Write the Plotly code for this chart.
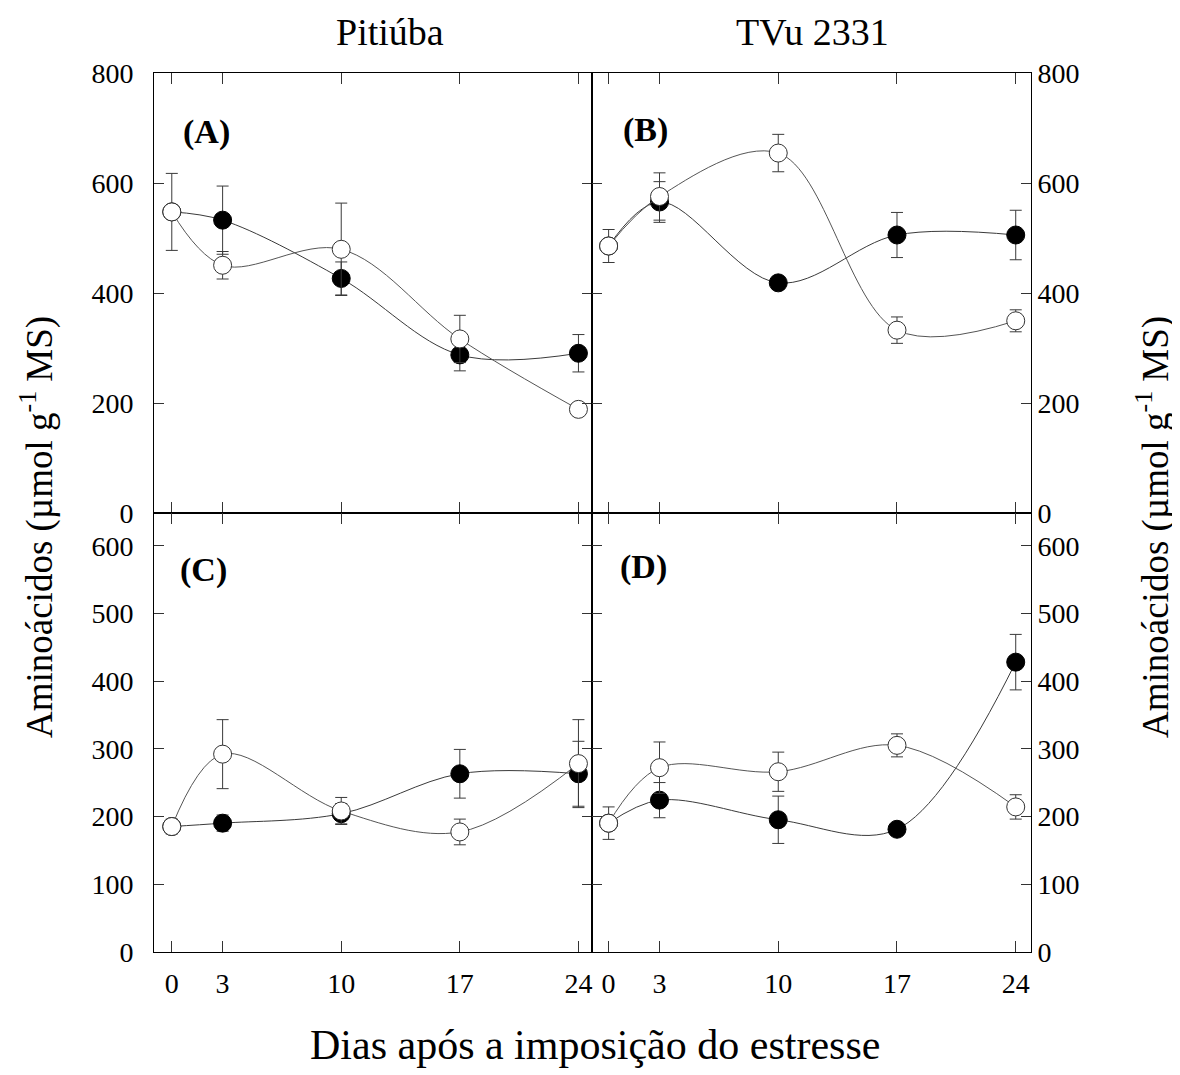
import plotly.graph_objects as go

# ---------------- data ----------------
days = [0, 3, 10, 17, 24]

# Panel A (Pitiúba, top)
A_filled = [548, 533, 427, 288, 291]
A_filled_err = [0, 62, 30, 29, 34]
A_open = [548, 451, 480, 317, 189]
A_open_err = [70, 25, 84, 43, 0]

# Panel B (TVu 2331, top)
B_filled = [486, 566, 419, 506, 506]
B_filled_err = [0, 37, 0, 41, 45]
B_open = [486, 576, 655, 333, 350]
B_open_err = [30, 43, 34, 24, 20]

# Panel C (Pitiúba, bottom)
C_filled = [185, 190, 204, 263, 263]
C_filled_err = [0, 12, 15, 36, 48]
C_open = [185, 292, 208, 177, 278]
C_open_err = [11, 51, 20, 19, 65]

# Panel D (TVu 2331, bottom)
D_filled = [190, 224, 195, 181, 428]
D_filled_err = [0, 26, 35, 5, 41]
D_open = [190, 272, 266, 305, 214]
D_open_err = [24, 38, 29, 17, 18]

top_ticks = [0, 200, 400, 600, 800]
bottom_ticks = [0, 100, 200, 300, 400, 500, 600]
col_titles = ["Pitiúba", "TVu 2331"]
panel_labels = ["(A)", "(B)", "(C)", "(D)"]
y_title = "Aminoácidos (µmol g<sup>-1</sup> MS)"
x_title = "Dias após a imposição do estresse"

# ---------------- layout geometry ----------------
W, H = 1180, 1075
OFF = 8  # page body margin compensation
FONT = "Liberation Serif"

def px_x(x):
    return (x - OFF) / W

def px_y(y):
    return 1 - (y - OFF) / H

panels = [
    (A_filled, A_filled_err, A_open, A_open_err, (154, 592), (513.3, 73.3), [0, 800], top_ticks, [-1.05, 24.8], "left", False),
    (B_filled, B_filled_err, B_open, B_open_err, (592, 1031), (513.3, 73.3), [0, 800], top_ticks, [-0.98, 24.9], "right", False),
    (C_filled, C_filled_err, C_open, C_open_err, (154, 592), (951.7, 513.3), [0, 648], bottom_ticks, [-1.05, 24.8], "left", True),
    (D_filled, D_filled_err, D_open, D_open_err, (592, 1031), (951.7, 513.3), [0, 648], bottom_ticks, [-0.98, 24.9], "right", True),
]

fig = go.Figure()
layout = {}
for i, (f, fe, o, oe, xd, yd, yr, yt, xr, side, showx) in enumerate(panels):
    n = i + 1
    xa = "x" if n == 1 else f"x{n}"
    ya = "y" if n == 1 else f"y{n}"
    fig.add_trace(go.Scatter(
        x=days, y=f, xaxis=xa, yaxis=ya, mode="lines+markers",
        line=dict(shape="spline", smoothing=1.0, color="#3a3a3a", width=1),
        marker=dict(symbol="circle", size=18, color="black", line=dict(color="black", width=1)),
        error_y=dict(type="data", array=fe, visible=True, color="#3a3a3a", thickness=1, width=6),
        showlegend=False))
    fig.add_trace(go.Scatter(
        x=days, y=o, xaxis=xa, yaxis=ya, mode="lines+markers",
        line=dict(shape="spline", smoothing=1.0, color="#555555", width=1),
        marker=dict(symbol="circle", size=18, color="white", line=dict(color="#333333", width=1)),
        error_y=dict(type="data", array=oe, visible=True, color="#3a3a3a", thickness=1, width=6),
        showlegend=False))
    layout["xaxis" if n == 1 else f"xaxis{n}"] = dict(
        domain=[px_x(xd[0]), px_x(xd[1])], range=xr, anchor=ya,
        tickmode="array", tickvals=days, ticktext=[str(d) for d in days],
        ticks="inside", ticklen=11, tickcolor="#333", tickwidth=1,
        showline=True, linecolor="black", linewidth=1, mirror="ticks",
        showgrid=False, zeroline=False, showticklabels=showx, automargin=False,
        tickfont=dict(family=FONT, size=28, color="black"),
        ticklabelstandoff=7,
    )
    layout["yaxis" if n == 1 else f"yaxis{n}"] = dict(
        domain=[px_y(yd[0]), px_y(yd[1])], range=yr, anchor=xa, side=side,
        tickmode="array", tickvals=yt,
        ticks="inside", ticklen=10, tickcolor="#333", tickwidth=1,
        showline=True, linecolor="black", linewidth=1, mirror="ticks",
        showgrid=False, zeroline=False, automargin=False,
        tickfont=dict(family=FONT, size=28, color="black"),
        ticklabelstandoff=14 if side == "left" else 0,
    )

def ann(text, x, y, size, angle=0):
    return dict(x=px_x(x), y=px_y(y), xref="paper", yref="paper", text=text,
                xanchor="center", yanchor="middle", textangle=angle,
                showarrow=False, font=dict(family=FONT, size=size, color="black"))

annotations = [
    ann(col_titles[0], 390, 32, 38),
    ann(col_titles[1], 812, 32, 38),
]
for lab, (cx, cy) in zip(panel_labels, [(206, 132), (645, 130), (203, 570), (643, 567)]):
    annotations.append(ann(f"<b>{lab}</b>", cx, cy, 34))
annotations.append(ann(y_title, 37, 527, 37, -90))
annotations.append(ann(y_title, 1153, 527, 37, -90))
annotations.append(ann(x_title, 595, 1045, 42))

fig.update_layout(
    width=W, height=H,
    margin=dict(l=0, r=0, t=0, b=0, autoexpand=False),
    paper_bgcolor="white", plot_bgcolor="white",
    annotations=annotations,
    **layout,
)

fig.write_html("out.html")
